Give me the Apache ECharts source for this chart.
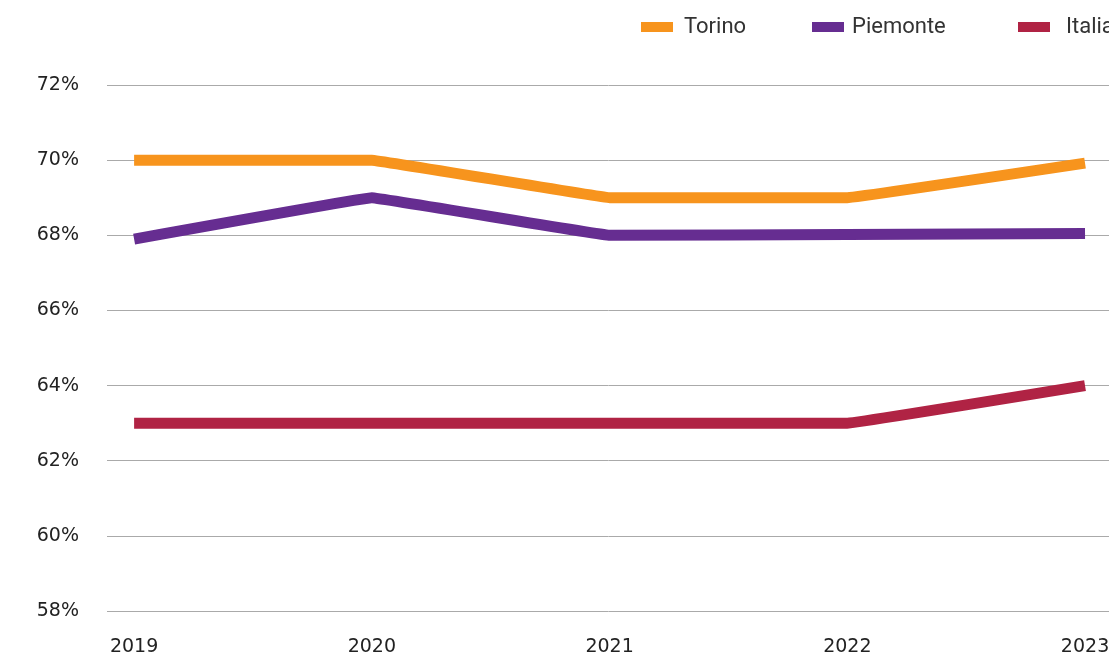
<!DOCTYPE html>
<html><head><meta charset="utf-8">
<script src="https://cdn.jsdelivr.net/npm/echarts@6/dist/echarts.min.js"></script>
<style>html,body{margin:0;padding:0;background:#fff}#c{width:1109px;height:654px}</style>
</head><body><div id="c"></div>
<script>
const years = [2019, 2020, 2021, 2022, 2023];
const torino = [70, 70, 69, 69, 69.92];
const piemonte = [67.9, 69, 68, 68.02, 68.05];
const italia = [63, 63, 63, 63, 64];
const seriesNames = ['Torino', 'Piemonte', 'Italia'];
const legendLeft = [636, 807, 1013];
const legendTextPad = [6, 3, 11];

const chart = echarts.init(document.getElementById('c'));
const pair = arr => years.map((y, i) => [y, arr[i]]);
const mkSeries = (name, arr, color) => ({
  name, type: 'line', data: pair(arr), showSymbol: false, symbol: 'none',
  lineStyle: { width: 11, color, cap: 'butt', join: 'round' },
  itemStyle: { color }, smooth: 0.03
});
const axisFont = { fontFamily: 'DejaVu Sans', fontSize: 19, color: '#222' };
chart.setOption({
  animation: false,
  legend: seriesNames.map((n, i) => ({
    left: legendLeft[i], top: 11, icon: 'rect', itemWidth: 32, itemHeight: 10,
    textStyle: { fontFamily: 'Roboto', fontSize: 22, color: '#333', padding: [0, 0, 0, legendTextPad[i]] },
    data: [n]
  })),
  grid: { left: 107, right: -1, top: 85, bottom: 43, containLabel: false, outerBoundsMode: 'none' },
  xAxis: {
    type: 'value', min: 2018.886, max: 2023.105,
    axisLine: { show: false }, axisTick: { show: false }, splitLine: { show: false },
    axisLabel: Object.assign({ customValues: years, formatter: v => String(v), margin: 27 }, axisFont)
  },
  yAxis: {
    type: 'value', min: 58, max: 72, interval: 2,
    axisLine: { show: false }, axisTick: { show: false },
    splitLine: { lineStyle: { color: '#aaa', width: 1 } },
    axisLabel: Object.assign({ formatter: v => v + '%', margin: 28 }, axisFont)
  },
  series: [
    mkSeries('Torino', torino, '#F7941D'),
    mkSeries('Piemonte', piemonte, '#662D91'),
    mkSeries('Italia', italia, '#B02344')
  ]
});
</script></body></html>
